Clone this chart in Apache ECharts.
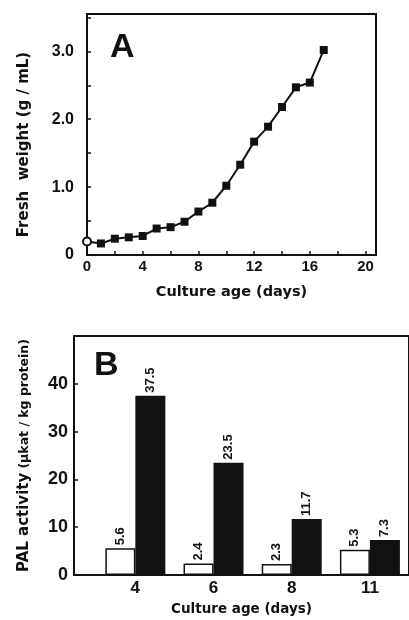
<!DOCTYPE html>
<html>
<head>
<meta charset="utf-8">
<script src="https://cdn.jsdelivr.net/npm/echarts@6/dist/echarts.min.js"></script>
<style>
  html, body { margin: 0; padding: 0; background: #fff; }
  #main { width: 409px; height: 620px; }
</style>
</head>
<body>
<div id="main"></div>
<script>
// panel A: fresh weight growth curve
const daysA = [0, 1, 2, 3, 4, 5, 6, 7, 8, 9, 10, 11, 12, 13, 14, 15, 16, 17]
const freshWeight = [0.20, 0.17, 0.24, 0.26, 0.28, 0.39, 0.41, 0.49, 0.64, 0.77, 1.02, 1.33, 1.67, 1.89, 2.18, 2.47, 2.54, 3.02]

// panel B: PAL activity
const ageB = ['4', '6', '8', '11']
const palOpen = [5.6, 2.4, 2.3, 5.3]
const palFilled = [37.5, 23.5, 11.7, 7.3]

const NUM = 'Liberation Sans, Arial, sans-serif' // digits
const TTL = 'DejaVu Sans, sans-serif' // axis titles
const INK = '#111'

const lineData = daysA.map((d, i) => {
  const p = { value: [d, freshWeight[i]] }
  if (i === 0) { // first point is drawn open
    p.symbol = 'emptyCircle'
    p.symbolSize = 8
    p.itemStyle = { color: INK, borderWidth: 2 }
  }
  return p
})

const titleStyle = size => ({ fontSize: size, fontWeight: 'bold', color: INK, fontFamily: TTL })
const numStyle = size => ({ fontSize: size, fontWeight: 'bold', color: INK, fontFamily: NUM })

const chart = echarts.init(document.getElementById('main'))

const option = {
  backgroundColor: '#fff',
  animation: false,
  textStyle: { fontFamily: NUM, color: INK, fontWeight: 'bold' },
  grid: [
    { left: 87, top: 14, width: 289, height: 241, show: true, borderColor: INK, borderWidth: 2 },
    { left: 74, top: 336, right: -47, height: 239, show: true, borderColor: INK, borderWidth: 2 },
    { left: 96.25, top: 336, width: 322, height: 239 }
  ],
  xAxis: [
    {
      gridIndex: 0,
      type: 'value',
      min: 0,
      max: 20.75,
      interval: 2,
      name: 'Culture age (days)',
      nameLocation: 'middle',
      nameGap: 30,
      nameTextStyle: titleStyle(14.5),
      axisLine: { lineStyle: { color: INK, width: 2 } },
      axisTick: { inside: true, length: 4, lineStyle: { color: INK, width: 1.5 } },
      axisLabel: Object.assign(numStyle(15), {
        margin: 4,
        formatter: v => (v % 4 === 0 ? String(v) : '')
      }),
      splitLine: { show: false }
    },
    {
      gridIndex: 1,
      type: 'value',
      min: 0,
      max: 1,
      name: 'Culture age (days)',
      nameLocation: 'middle',
      nameGap: 27,
      nameTextStyle: titleStyle(13.5),
      axisLine: { lineStyle: { color: INK, width: 2 } },
      axisTick: { show: false },
      axisLabel: { show: false },
      splitLine: { show: false }
    },
    {
      gridIndex: 2,
      type: 'category',
      data: ageB,
      axisLine: { show: false },
      axisTick: { show: false },
      axisLabel: Object.assign(numStyle(17), { margin: 5 })
    }
  ],
  yAxis: [
    {
      gridIndex: 0,
      type: 'value',
      min: 0,
      max: 3.55,
      interval: 0.5,
      name: 'Fresh  weight (g / mL)',
      nameLocation: 'middle',
      nameRotate: 90,
      nameGap: 55,
      nameTextStyle: Object.assign(titleStyle(15), { padding: [0, 20, 0, 0] }),
      axisLine: { lineStyle: { color: INK, width: 2 } },
      axisTick: { inside: true, length: 4, lineStyle: { color: INK, width: 1.5 } },
      axisLabel: Object.assign(numStyle(16), {
        margin: 13,
        formatter: v => (v === 0 ? '0' : (Number.isInteger(v) ? v.toFixed(1) : ''))
      }),
      splitLine: { show: false }
    },
    {
      gridIndex: 1,
      type: 'value',
      min: 0,
      max: 50,
      interval: 10,
      name: '{a|PAL activity} {b|(\u00b5kat / kg protein)}',
      nameLocation: 'middle',
      nameRotate: 90,
      nameGap: 42,
      nameTextStyle: {
        color: INK, fontFamily: TTL,
        rich: {
          a: titleStyle(15),
          b: titleStyle(12.5)
        }
      },
      axisLine: { lineStyle: { color: INK, width: 2 } },
      axisTick: { inside: true, length: 4, lineStyle: { color: INK, width: 1.5 } },
      axisLabel: Object.assign(numStyle(18), {
        margin: 6,
        formatter: v => (v < 50 ? String(v) : '')
      }),
      splitLine: { show: false }
    },
    {
      gridIndex: 2,
      type: 'value',
      min: 0,
      max: 50,
      show: false
    }
  ],
  graphic: [
    { type: 'text', left: 110, top: 31, style: { text: 'A', font: 'bold 34px ' + NUM, fill: INK } },
    { type: 'text', left: 94, top: 349, style: { text: 'B', font: 'bold 34px ' + NUM, fill: INK } }
  ],
  series: [
    {
      type: 'line',
      xAxisIndex: 0,
      yAxisIndex: 0,
      data: lineData,
      clip: false,
      z: 5,
      symbol: 'rect',
      symbolSize: 8,
      lineStyle: { color: INK, width: 2 },
      itemStyle: { color: INK }
    },
    {
      type: 'bar',
      xAxisIndex: 2,
      yAxisIndex: 2,
      data: palOpen,
      barWidth: 30,
      barGap: '0%',
      itemStyle: { color: '#fff', borderColor: INK, borderWidth: 1.5 },
      label: Object.assign(numStyle(13), {
        show: true, position: 'top', rotate: 90, align: 'left', verticalAlign: 'middle',
        distance: 6, offset: [-3, 0],
        formatter: p => p.value.toFixed(1)
      })
    },
    {
      type: 'bar',
      xAxisIndex: 2,
      yAxisIndex: 2,
      data: palFilled,
      barWidth: 30,
      barGap: '0%',
      itemStyle: { color: INK },
      label: Object.assign(numStyle(13), {
        show: true, position: 'top', rotate: 90, align: 'left', verticalAlign: 'middle',
        distance: 6, offset: [-3, 0],
        formatter: p => p.value.toFixed(1)
      })
    }
  ]
}

chart.setOption(option)
</script>
</body>
</html>
